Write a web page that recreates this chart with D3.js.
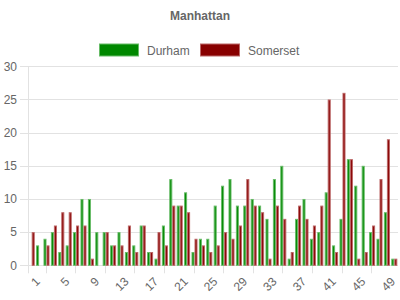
<!DOCTYPE html>
<html>
<head>
<meta charset="utf-8">
<script src="https://cdn.jsdelivr.net/npm/d3@7"></script>
<style>
  html, body { margin: 0; padding: 0; background: #fff; }
  svg { display: block; font-family: "Liberation Sans", Arial, sans-serif; }
</style>
</head>
<body>
<svg id="chart" width="400" height="300"></svg>
<script>
const title = "Manhattan";
const categories = d3.range(1, 51);
const seriesNames = ["Durham", "Somerset"];
const durham = [0,3,4,5,2,3,5,10,10,5, 5,3,5,2,3,6,2,1,6,13, 9,11,2,4,4,9,12,13,9,9, 10,9,7,13,15,1,7,10,4,5, 11,3,7,16,12,15,5,4,8,1];
const somerset = [5,0,3,6,8,8,6,6,1,0, 5,3,3,6,2,6,2,5,3,9, 9,8,4,3,2,3,5,4,6,13, 9,8,1,9,7,2,9,7,6,9, 25,2,26,16,1,2,6,13,19,1];
const yTicks = [0, 5, 10, 15, 20, 25, 30];
const xTickLabels = [1, 5, 9, 13, 17, 21, 25, 29, 33, 37, 41, 45, 49];
const colors = {Durham: "#008800", Somerset: "#880000"};
const strokes = {Durham: "#66bb66", Somerset: "#bb6666"};

(function () {
const svg = d3.select("#chart");
const mLeft = 28, mRight = 398, mTop = 66.3, mBottom = 265.3;

const x0 = d3.scaleBand().domain(categories).range([mLeft, mRight]).padding(0);
const x1 = d3.scaleBand().domain(seriesNames).range([0, x0.bandwidth()]).paddingInner(0).paddingOuter(0.23);
const y = d3.scaleLinear().domain([0, 30]).range([mBottom, mTop]);

// horizontal grid lines + y ticks
const gy = svg.append("g");
gy.selectAll("line").data(yTicks).join("line")
  .attr("x1", 20).attr("x2", mRight)
  .attr("y1", d => Math.round(y(d)) + 0.5).attr("y2", d => Math.round(y(d)) + 0.5)
  .attr("stroke", "#e2e2e2").attr("stroke-width", 1);
gy.selectAll("text").data(yTicks).join("text")
  .attr("x", 17).attr("y", d => y(d)).attr("dy", "0.35em")
  .attr("text-anchor", "end").attr("font-size", 12).attr("fill", "#666")
  .text(d => d);

// y axis line
svg.append("line").attr("x1", mLeft + 0.5).attr("x2", mLeft + 0.5)
  .attr("y1", mTop).attr("y2", mBottom + 8).attr("stroke", "#e2e2e2");

// x ticks
const tickCats = xTickLabels.map(d => d + 2).filter(d => d <= 50);
svg.append("g").selectAll("line").data(tickCats).join("line")
  .attr("x1", d => Math.round(x0(d) + x0.bandwidth() / 2 - 1) + 0.5)
  .attr("x2", d => Math.round(x0(d) + x0.bandwidth() / 2 - 1) + 0.5)
  .attr("y1", mBottom).attr("y2", mBottom + 8)
  .attr("stroke", "#e2e2e2");

// bars
const data = categories.map((c, i) => ({cat: c, values: [
  {key: "Durham", value: durham[i]},
  {key: "Somerset", value: somerset[i]}
]}));
const groups = svg.append("g").selectAll("g").data(data).join("g")
  .attr("transform", d => `translate(${x0(d.cat)},0)`);
groups.selectAll("rect").data(d => d.values.filter(v => v.value > 0)).join("rect")
  .attr("x", d => x1(d.key) + 0.5)
  .attr("width", x1.bandwidth() - 1)
  .attr("y", d => y(d.value) + 0.5)
  .attr("height", d => y(0) - y(d.value) - 0.5)
  .attr("fill", d => colors[d.key])
  .attr("stroke", d => strokes[d.key])
  .attr("stroke-width", 1);

// x labels
svg.append("g").selectAll("text").data(xTickLabels).join("text")
  .attr("transform", d => `translate(${x0(d) + x0.bandwidth() / 2 + 6},${mBottom + 14}) rotate(-45)`)
  .attr("text-anchor", "end").attr("dy", "0.35em")
  .attr("font-size", 12).attr("fill", "#666")
  .text(d => d);

// title
svg.append("text").attr("x", 200).attr("y", 20).attr("text-anchor", "middle")
  .attr("font-size", 12).attr("font-weight", "bold").attr("fill", "#666")
  .text(title);

// legend
const legendX = [99, 200];
const lg = svg.append("g").selectAll("g").data(seriesNames).join("g")
  .attr("transform", (d, i) => `translate(${legendX[i]},43.5)`);
lg.append("rect").attr("x", 0.5).attr("y", 0.5).attr("width", 39).attr("height", 12)
  .attr("fill", d => colors[d]).attr("stroke", d => strokes[d]);
lg.append("text").attr("x", 48).attr("y", 11)
  .attr("font-size", 12).attr("fill", "#666").text(d => d);
})();
</script>
</body>
</html>
